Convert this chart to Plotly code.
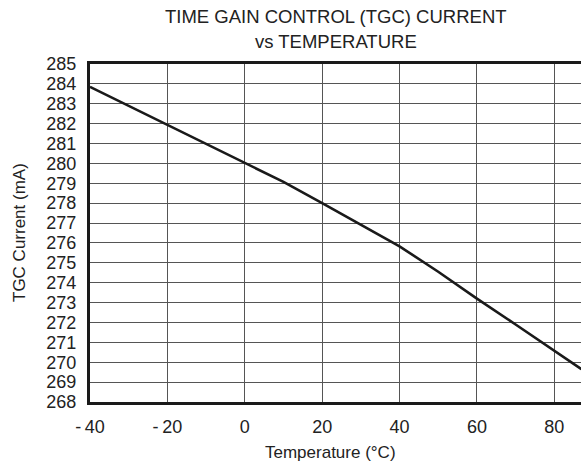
import plotly.graph_objects as go

# Data
temperature_c = [-40, -30, -20, -10, 0, 10, 20, 27, 40, 50, 60, 70, 80, 87]
tgc_current_ma = [283.85, 282.9, 281.93, 281.0, 280.04, 279.07, 278.0, 277.25,
                  275.83, 274.55, 273.2, 271.9, 270.6, 269.65]

x_tick_vals = [-40, -20, 0, 20, 40, 60, 80]
x_tick_text = ["-\u200940", "-\u200920", "0", "20", "40", "60", "80"]
y_tick_vals = list(range(268, 286))

W, H = 581, 472
L, R, T, B = 90, 0, 64, 70
PW, PH = W - L - R, H - T - B
FONT = "Liberation Sans, Arial, Helvetica, sans-serif"
TXT = "#222222"


def px_x(x):
    return (x - L) / PW


def px_y(y):
    return (H - B - y) / PH


fig = go.Figure()
fig.add_trace(go.Scatter(
    x=temperature_c, y=tgc_current_ma, mode="lines",
    line=dict(color="#1a1a1a", width=2.6), showlegend=False, hoverinfo="skip",
))

fig.update_layout(
    width=W, height=H,
    margin=dict(l=L, r=R, t=T, b=B, pad=0),
    paper_bgcolor="white", plot_bgcolor="white",
    font=dict(family=FONT, size=17, color=TXT),
    xaxis=dict(
        range=[-40, 86.9], tickvals=x_tick_vals, ticktext=x_tick_text,
        showgrid=True, gridcolor="#555555", gridwidth=1,
        showline=True, linecolor="#1a1a1a", linewidth=3, mirror=True,
        ticks="", ticklabelstandoff=6, zeroline=False,
        tickfont=dict(family=FONT, size=18, color=TXT),
    ),
    yaxis=dict(
        range=[268, 285], tickvals=y_tick_vals,
        showgrid=True, gridcolor="#555555", gridwidth=1,
        showline=True, linecolor="#1a1a1a", linewidth=3, mirror=False,
        ticks="", ticklabelstandoff=7, zeroline=False,
        tickfont=dict(family=FONT, size=18, color=TXT),
    ),
    annotations=[
        dict(text="TIME GAIN CONTROL (TGC) CURRENT", xref="paper", yref="paper",
             x=px_x(335.8), y=px_y(16.3), xanchor="center", yanchor="middle",
             showarrow=False, font=dict(family=FONT, size=18.5, color=TXT)),
        dict(text="vs TEMPERATURE", xref="paper", yref="paper",
             x=px_x(335.8), y=px_y(41.7), xanchor="center", yanchor="middle",
             showarrow=False, font=dict(family=FONT, size=18.5, color=TXT)),
        dict(text="TGC Current (mA)", textangle=-90, xref="paper", yref="paper",
             x=px_x(19), y=px_y(233), xanchor="center", yanchor="middle",
             showarrow=False, font=dict(family=FONT, size=17, color=TXT)),
        dict(text="Temperature (\u00b0C)", xref="paper", yref="paper",
             x=px_x(330), y=px_y(452), xanchor="center", yanchor="middle",
             showarrow=False, font=dict(family=FONT, size=17, color=TXT)),
    ],
)

fig.write_html(
    "out.html",
    config={"displayModeBar": False, "staticPlot": True},
    post_script="document.body.style.margin='0';document.body.style.overflow='hidden';",
)
